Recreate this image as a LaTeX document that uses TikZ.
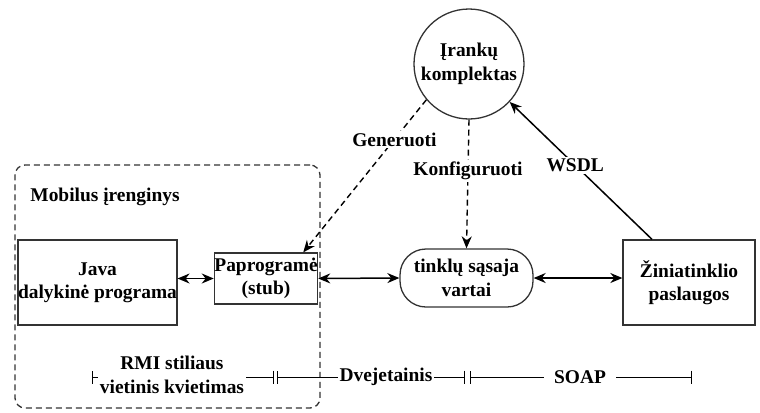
\documentclass[tikz,border=0pt]{standalone}
\usepackage{fontspec}
\setmainfont{Liberation Serif}
\usetikzlibrary{arrows.meta}

\tikzstyle{box} = [rectangle, draw=black!80, line width=1.3bp, align=center, inner sep=0pt]
\tikzstyle{lbl} = [align=center, inner sep=1bp]
\tikzstyle{onlbl} = [fill=white, inner sep=2bp]
\tikzstyle{arrow} = [line width=1.5bp,<->,>={Stealth[length=12bp,width=10bp]}]
\tikzstyle{dasharrow} = [line width=1.4bp,->,>={Stealth[length=12bp,width=10bp]},dash pattern=on 6bp off 4bp]
\tikzstyle{span} = [line width=1bp,{Bar[width=13bp]}-{Bar[width=13bp]}]

\begin{document}
\begin{tikzpicture}[x=1bp, y=-1bp, font=\bfseries\fontsize{19.5}{23.5}\selectfont]
  \useasboundingbox (0,0) rectangle (760,412);

  \node (device) [rectangle, draw=black!80, line width=1.3bp, dash pattern=on 6bp off 4bp, rounded corners=10bp, minimum width=305bp, minimum height=243bp] at (167.5,286.5) {};
  \node (device label) [lbl] at (105,197) {Mobilus įrenginys};

  \node (toolkit) [circle, draw=black!80, line width=1.3bp, minimum size=110bp, align=center, inner sep=0pt] at (469,64) {Įrankų\\komplektas};
  \node (java) [box, minimum width=145bp, minimum height=85bp] at (97.5,282.5) {Java\\dalykinė programa};
  \node (stub) [box, minimum width=84bp, minimum height=51bp] at (266,278.5) {Paprogramė\\(stub)};
  \node (gateway) [box, rounded corners=26bp, minimum width=133bp, minimum height=58bp] at (466.5,278) {tinklų sąsaja\\vartai};
  \node (websvc) [box, minimum width=132bp, minimum height=85bp] at (689,282.5) {Žiniatinklio\\paslaugos};

  \draw [arrow] (java.east |- stub.west) -- (stub.west);
  \draw [arrow] (stub.east) -- (gateway.west);
  \draw [arrow] (gateway.east) -- (websvc.west |- gateway.east);

  \draw [dasharrow] (toolkit.220) -- ([xshift=-15bp]stub.north east)
    node [onlbl, pos=0.26] {Generuoti};
  \draw [dasharrow] (toolkit.south) -- (gateway.north)
    node [onlbl, pos=0.4] {Konfiguruoti};
  \draw [line width=1.5bp,->,>={Stealth[length=12bp,width=10bp]}] ([xshift=-37bp]websvc.north) -- (toolkit.-43)
    node [onlbl, pos=0.54] {WSDL};

  % protokolu skale
  \coordinate (rmi start) at (92,377);
  \coordinate (rmi end) at (274,377);
  \coordinate (bin start) at (277,377);
  \coordinate (bin end) at (465,377);
  \coordinate (soap start) at (470,377);
  \coordinate (soap end) at (692,377);
  \draw [span] (rmi start) -- (rmi end);
  \draw [span] (bin start) -- (bin end);
  \draw [span] (soap start) -- (soap end);
  \node (rmi) [lbl, onlbl] at (172,375) {RMI stiliaus\\vietinis kvietimas};
  \node (binary) [lbl, onlbl] at (386,377) {Dvejetainis};
  \node (soap) [lbl, onlbl, inner xsep=10bp] at (580,377) {SOAP};
\end{tikzpicture}
\end{document}
